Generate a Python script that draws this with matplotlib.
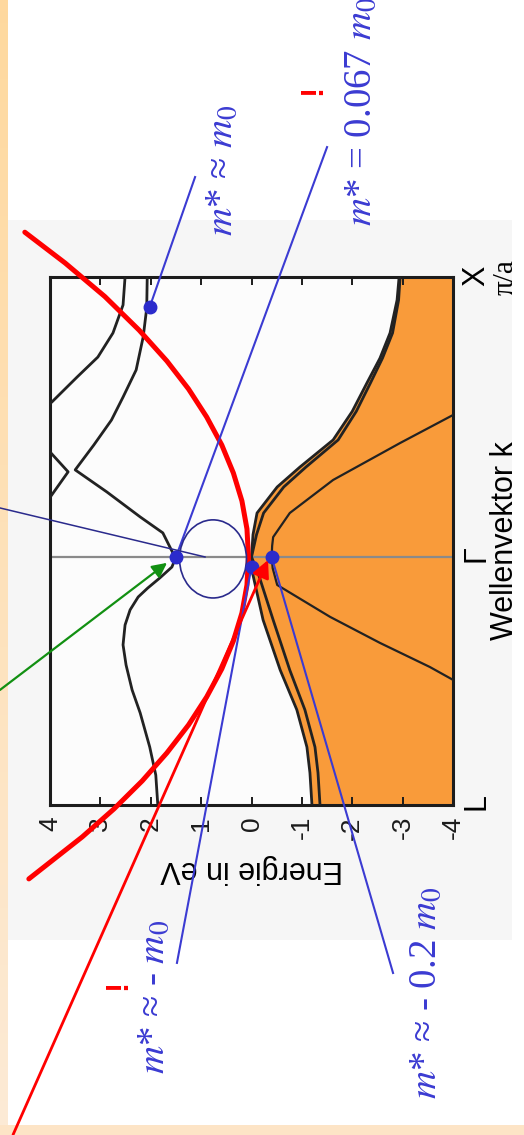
import numpy as np
import matplotlib.pyplot as plt
from matplotlib.patches import Ellipse, Rectangle

plt.rcParams['font.family'] = ['Liberation Sans', 'DejaVu Sans']
plt.rcParams['mathtext.fontset'] = 'stix'
plt.rcParams['axes.unicode_minus'] = False

# k-Achse: L bei -0.886, Gamma bei 0, X bei 1 (Wellenvektor in pi/a)
k_L, k_X = -0.886, 1.0
energy_ticks = [4, 3, 2, 1, 0, -1, -2, -3, -4]
energy_labels = ['4', '3', '2', '1', '0', '-1', '-2', '-3', '-4']
k_ticks = [k_L, 0.0, k_X]
k_labels = ['L', 'Γ', 'X']

# oberstes Valenzband (schwere Loecher) L -> Gamma -> X
vb1_k = [-0.886, -0.771, -0.679, -0.546, -0.404, -0.225, -0.057, 0.0, 0.08, 0.157, 0.25, 0.321, 0.418, 0.52, 0.621, 0.71, 0.8, 0.918, 1.0]
vb1_E = [-1.20, -1.16, -1.10, -0.90, -0.57, -0.23, -0.02, 0.0, -0.03, -0.11, -0.51, -0.96, -1.62, -2.00, -2.29, -2.55, -2.75, -2.89, -2.93]
# leichte Loecher
vb2_k = [-0.886, -0.771, -0.679, -0.546, -0.404, -0.225, -0.057, 0.0, 0.08, 0.157, 0.25, 0.321, 0.418, 0.52, 0.621, 0.71, 0.8, 0.918, 1.0]
vb2_E = [-1.36, -1.32, -1.26, -1.06, -0.76, -0.43, -0.13, 0.0, -0.10, -0.24, -0.64, -1.08, -1.72, -2.08, -2.36, -2.60, -2.80, -2.92, -2.95]
# abgespaltenes Band
so_k = [-0.439, -0.393, -0.307, -0.214, -0.10, -0.04, 0.0, 0.04, 0.071, 0.157, 0.275, 0.407, 0.507]
so_E = [-4.00, -3.54, -2.55, -1.56, -0.51, -0.42, -0.40, -0.41, -0.43, -0.76, -1.62, -2.95, -4.00]

# Leitungsbaender
cb1_k = [-0.886, -0.779, -0.679, -0.557, -0.475, -0.386, -0.314, -0.243, -0.189, -0.143, -0.111, -0.075, -0.036, 0.0,
         0.014, 0.086, 0.143, 0.232, 0.311, 0.40, 0.489, 0.571, 0.668, 0.786, 0.889, 1.0]
cb1_E = [1.86, 1.90, 2.02, 2.21, 2.37, 2.49, 2.55, 2.51, 2.41, 2.25, 2.06, 1.82, 1.58, 1.50,
         1.56, 1.76, 2.21, 2.87, 3.50, 3.13, 2.78, 2.55, 2.29, 2.15, 2.08, 2.07]
cb2_k = [0.385, 0.304, 0.200]
cb2_E = [4.05, 3.64, 4.05]
cb3_k = [1.0, 0.90, 0.80, 0.714, 0.643, 0.554, 0.54]
cb3_E = [2.51, 2.55, 2.75, 3.05, 3.46, 3.96, 4.05]

# Parabel freies Elektron
free_k = [1.16, 1.05, 0.93, 0.81, 0.70, 0.60, 0.50, 0.40, 0.30, 0.20, 0.10, 0.0,
          -0.10, -0.20, -0.30, -0.40, -0.50, -0.60, -0.70, -0.80, -0.90, -1.00, -1.15]
free_E = [4.50, 3.70, 2.91, 2.23, 1.68, 1.25, 0.89, 0.59, 0.36, 0.19, 0.09, 0.06,
          0.09, 0.19, 0.36, 0.59, 0.89, 1.25, 1.68, 2.17, 2.73, 3.36, 4.42]

# effektive Massen: Punkt im Bandschema, Ende der Zeigelinie, Textmitte
mass_text = [r'$m$* = 0.067 $m_0$', r'$m$* ≈ $m_0$', r'$m$* ≈ - $m_0$', r'$m$* ≈ - 0.2 $m_0$']
mass_dot_E = [1.50, 2.02, 0.0, -0.40]
mass_dot_k = [0.0, 0.893, -0.036, 0.0]
mass_end_E = [-1.50, 1.12, 1.48, -2.81]
mass_end_k = [1.464, 1.357, -1.45, -1.486]
mass_txt_E = [-2.19, 0.57, 1.92, -3.48]
mass_txt_k = [1.593, 1.382, -1.571, -1.557]
warn_E = [-1.22, 2.64]
warn_k = [1.668, -1.529]

blue = '#3b3bd2'
navy = '#2a2a8c'

fig = plt.figure(figsize=(5.24, 11.35), dpi=100)

# Hintergrund: Scan-Flaeche und orange Randleisten
bg = fig.add_axes([0, 0, 1, 1])
bg.add_patch(Rectangle((8, 220), 504, 720, color='#f6f6f6', lw=0))
grad = np.linspace(0, 1, 100)[:, None, None]
c_top = np.array([1.0, 0.85, 0.62])
c_bot = np.array([0.99, 0.92, 0.84])
bg.imshow(c_top + (c_bot - c_top) * grad, extent=(0, 8, 1135, 0), aspect='auto')
bg.add_patch(Rectangle((0, 1125), 524, 10, color='#fde4c6', lw=0))
bg.set_xlim(0, 524)
bg.set_ylim(1135, 0)
bg.axis('off')

ax = fig.add_axes([50 / 524, 1 - 805 / 1135, 403 / 524, 528 / 1135])
ax.set_facecolor('#fcfcfc')
ax.set_xlim(4, -4)
ax.set_ylim(k_L, k_X)

# besetzte Zustaende
ax.fill_betweenx(vb1_k, vb1_E, -4, color='#f99b3a', lw=0, zorder=1)
ax.axhline(0, color='#8a8a8a', lw=1.6, zorder=2)

band_kw = dict(color='#222222', lw=2.0, zorder=3, solid_joinstyle='round')
ax.plot(vb1_E, vb1_k, **band_kw)
ax.plot(vb2_E, vb2_k, **band_kw)
ax.plot(so_E, so_k, color='#222222', lw=1.6, zorder=3)
ax.plot(cb1_E, cb1_k, **band_kw)
ax.plot(cb2_E, cb2_k, **band_kw)
ax.plot(cb3_E, cb3_k, **band_kw)

ax.plot(free_E, free_k, color='#ff0000', lw=3.6, zorder=5, clip_on=False,
        solid_capstyle='round')

# Zeigelinien + Punkte
for i in range(len(mass_text)):
    ax.plot([mass_dot_E[i], mass_end_E[i]], [mass_dot_k[i], mass_end_k[i]],
            color=blue, lw=1.5, zorder=6, clip_on=False)
    ax.text(mass_txt_E[i], mass_txt_k[i], mass_text[i], color=blue, fontsize=28,
            family=['Liberation Serif', 'DejaVu Serif'],
            rotation=90, ha='center', va='center', clip_on=False)
ax.plot(mass_dot_E, mass_dot_k, 'o', color='#2b2bcc', ms=9, zorder=8, clip_on=False)
for e, k in zip(warn_E, warn_k):
    ax.text(e, k, '!', color='#ff0000', fontsize=22, fontweight='bold',
            rotation=90, ha='center', va='center', clip_on=False)

# Kreis, Linie und Pfeile
ax.add_patch(Ellipse((0.764, -0.007), 1.33, 0.279, fill=False, ec=navy, lw=1.2,
                     zorder=7, clip_on=False))
ax.plot([4.993, 0.923], [0.175, 0.0], color=navy, lw=1.1, zorder=7, clip_on=False)
ax.annotate('', xy=(1.677, -0.021), xytext=(4.993, -0.475),
            arrowprops=dict(arrowstyle='-|>', color='#129012', lw=1.6,
                            mutation_scale=22, shrinkA=0, shrinkB=0),
            annotation_clip=False, zorder=7)
ax.annotate('', xy=(-0.328, -0.011), xytext=(4.734, -2.064),
            arrowprops=dict(arrowstyle='-|>', color='#ff0000', lw=2.0,
                            mutation_scale=26, shrinkA=0, shrinkB=0),
            annotation_clip=False, zorder=9)

# Achsen
for s in ax.spines.values():
    s.set_linewidth(2.2)
    s.set_color('#1c1c1c')
ax.set_xticks(energy_ticks)
ax.set_xticklabels(energy_labels, rotation=90, fontsize=19)
ax.tick_params(axis='x', direction='in', top=True, length=6, width=1.4,
               pad=8, colors='#1c1c1c')
ax.yaxis.tick_right()
ax.set_yticks(k_ticks)
ax.set_yticklabels(k_labels, rotation=90, fontsize=22)
ax.tick_params(axis='y', length=0, pad=6)
ax.set_xlabel('Energie in eV', rotation=180, fontsize=22, labelpad=10)
ax.yaxis.set_label_position('right')
ax.set_ylabel('Wellenvektor k', fontsize=22, labelpad=-1)
ax.text(-5.05, 1.0, 'π/a', fontsize=21, family=['Liberation Serif', 'DejaVu Serif'],
        rotation=90, ha='center', va='center', clip_on=False)

fig.savefig('out.png', dpi=100)
